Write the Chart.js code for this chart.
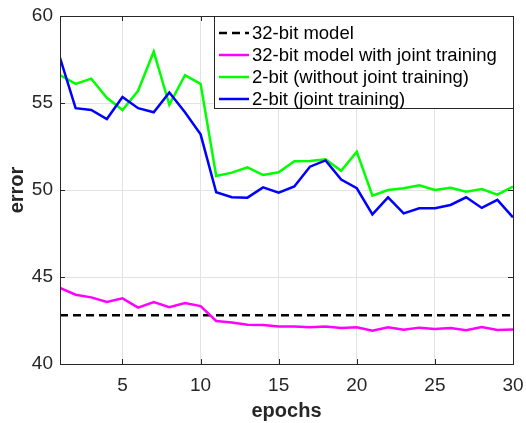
<!DOCTYPE html>
<html>
<head>
<meta charset="utf-8">
<script src="https://cdn.jsdelivr.net/npm/chart.js@4.4.1/dist/chart.umd.min.js"></script>
<style>
html, body { margin: 0; padding: 0; background: #fff; }
</style>
</head>
<body>
<canvas id="error-chart" width="526" height="423"></canvas>
<script>
// values
const epochs = [1, 2, 3, 4, 5, 6, 7, 8, 9, 10, 11, 12, 13, 14, 15, 16, 17, 18, 19, 20, 21, 22, 23, 24, 25, 26, 27, 28, 29, 30];
const baseline32 = 42.8;
const joint32 = [44.37, 43.98, 43.83, 43.56, 43.77, 43.24, 43.56, 43.26, 43.5, 43.33,
    42.47, 42.38, 42.26, 42.24, 42.15, 42.16, 42.11, 42.16, 42.07, 42.11,
    41.91, 42.11, 41.97, 42.09, 42.01, 42.07, 41.94, 42.13, 41.95, 41.99];
const noJoint2 = [56.6, 56.1, 56.4, 55.3, 54.6, 55.7, 57.95, 54.9, 56.6, 56.1,
    50.8, 51.0, 51.3, 50.86, 51.02, 51.65, 51.67, 51.76, 51.1, 52.2,
    49.67, 50.0, 50.1, 50.27, 50.0, 50.13, 49.9, 50.06, 49.73, 50.2];
const joint2 = [57.6, 54.7, 54.6, 54.08, 55.35, 54.7, 54.47, 55.6, 54.47, 53.2,
    49.87, 49.58, 49.56, 50.15, 49.85, 50.2, 51.34, 51.7, 50.6, 50.1,
    48.6, 49.58, 48.66, 48.95, 48.95, 49.14, 49.58, 48.97, 49.43, 48.43];
const seriesLabels = ['32-bit model', '32-bit model with joint training', '2-bit (without joint training)', '2-bit (joint training)'];
const xTicks = [5, 10, 15, 20, 25, 30];
const yTicks = [40, 45, 50, 55, 60];

const axisColor = '#262626';
const fontFamily = 'Arial, "Liberation Sans", Helvetica, sans-serif';

const toPoints = arr => arr.map((v, i) => ({ x: epochs[i], y: v }));

// box, inward ticks and the legend drawn inside the axes (MATLAB style)
const matlabFrame = {
    id: 'matlabFrame',
    afterDatasetsDraw(chart) {
        const { ctx, chartArea: a, scales } = chart;
        ctx.save();
        ctx.strokeStyle = axisColor;
        ctx.lineWidth = 1;
        ctx.beginPath();
        xTicks.forEach(t => {
            const px = Math.round(scales.x.getPixelForValue(t)) + 0.5;
            ctx.moveTo(px, a.bottom); ctx.lineTo(px, a.bottom - 5);
            ctx.moveTo(px, a.top); ctx.lineTo(px, a.top + 5);
        });
        yTicks.forEach(t => {
            const py = Math.round(scales.y.getPixelForValue(t)) + 0.5;
            ctx.moveTo(a.left, py); ctx.lineTo(a.left + 5, py);
            ctx.moveTo(a.right, py); ctx.lineTo(a.right - 5, py);
        });
        ctx.stroke();
        ctx.strokeRect(Math.round(a.left) + 0.5, Math.round(a.top) + 0.5,
            Math.round(a.right - a.left), Math.round(a.bottom - a.top));

        // legend, anchored to the top right corner of the axes
        const bw = 299, bh = 92;
        const bx = Math.round(a.right) - bw + 0.5, by = Math.round(a.top) + 0.5;
        ctx.fillStyle = '#fff';
        ctx.fillRect(bx, by, bw, bh);
        ctx.strokeRect(bx, by, bw, bh);
        ctx.font = '18.5px ' + fontFamily;
        ctx.textBaseline = 'middle';
        ctx.textAlign = 'left';
        chart.data.datasets.forEach((ds, i) => {
            const y = by + 16.5 + i * 22;
            ctx.save();
            ctx.strokeStyle = ds.borderColor;
            ctx.lineWidth = ds.borderWidth;
            ctx.setLineDash(ds.borderDash || []);
            ctx.beginPath();
            ctx.moveTo(bx + 4.5, y); ctx.lineTo(bx + 34.5, y);
            ctx.stroke();
            ctx.restore();
            ctx.fillStyle = '#000';
            ctx.fillText(ds.label, bx + 37.5, y + 1);
        });
        ctx.restore();
    }
};

const ctx = document.getElementById('error-chart').getContext('2d');
new Chart(ctx, {
    type: 'line',
    data: {
        datasets: [
            {
                label: seriesLabels[0],
                data: [{ x: epochs[0], y: baseline32 }, { x: epochs[epochs.length - 1], y: baseline32 }],
                borderColor: '#000000',
                borderWidth: 2.5,
                borderDash: [8, 5],
                order: 3
            },
            {
                label: seriesLabels[1],
                data: toPoints(joint32),
                borderColor: '#ff00ff',
                borderWidth: 2.5,
                order: 2
            },
            {
                label: seriesLabels[2],
                data: toPoints(noJoint2),
                borderColor: '#00ff00',
                borderWidth: 2.5,
                order: 1
            },
            {
                label: seriesLabels[3],
                data: toPoints(joint2),
                borderColor: '#0000ff',
                borderWidth: 2.5,
                order: 0
            }
        ]
    },
    options: {
        responsive: false,
        animation: false,
        layout: { padding: { top: 16, right: 13, left: 0, bottom: 0 } },
        elements: {
            point: { radius: 0 },
            line: { tension: 0, borderJoinStyle: 'miter', borderCapStyle: 'butt' }
        },
        scales: {
            x: {
                type: 'linear',
                min: 1,
                max: 30,
                afterBuildTicks: scale => { scale.ticks = xTicks.map(v => ({ value: v })); },
                afterFit: scale => {
                    scale.height = 59;
                    scale.paddingLeft = 0;
                    scale.paddingRight = 0;
                },
                grid: { color: '#e3e3e3', drawTicks: false },
                border: { display: false },
                ticks: {
                    color: axisColor,
                    padding: 10,
                    maxRotation: 0,
                    font: { family: fontFamily, size: 19 }
                },
                title: {
                    display: true,
                    text: 'epochs',
                    color: axisColor,
                    padding: { top: 0, bottom: 0 },
                    font: { family: fontFamily, size: 20, weight: 'bold' }
                }
            },
            y: {
                min: 40,
                max: 60,
                afterBuildTicks: scale => { scale.ticks = yTicks.map(v => ({ value: v })); },
                afterFit: scale => {
                    scale.width = 60;
                    scale.paddingTop = 0;
                    scale.paddingBottom = 0;
                },
                grid: { color: '#e3e3e3', drawTicks: false },
                border: { display: false },
                ticks: {
                    color: axisColor,
                    padding: 7,
                    font: { family: fontFamily, size: 19 }
                },
                title: {
                    display: true,
                    text: 'error',
                    color: axisColor,
                    padding: { top: 5, bottom: 0 },
                    font: { family: fontFamily, size: 20, weight: 'bold' }
                }
            }
        },
        plugins: {
            legend: { display: false },
            tooltip: { enabled: false }
        }
    },
    plugins: [matlabFrame]
});
</script>
</body>
</html>
